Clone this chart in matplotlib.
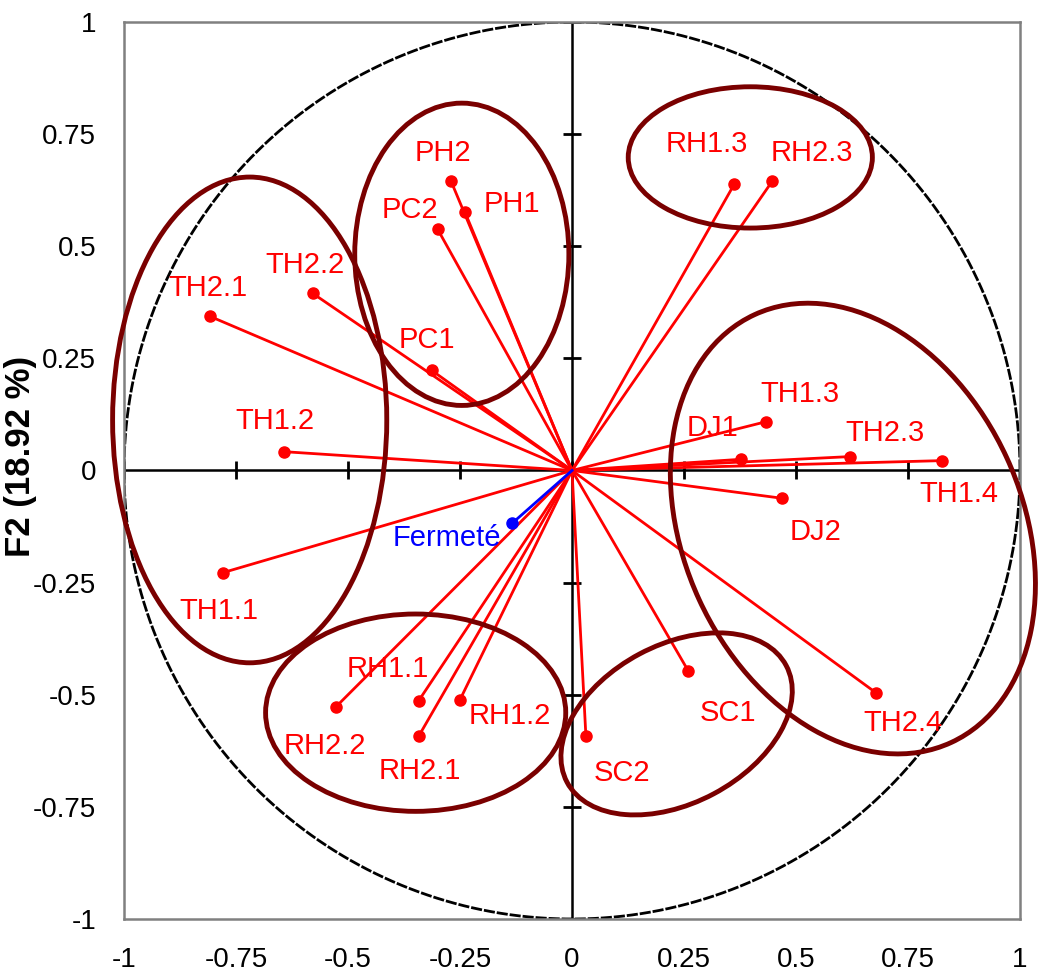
import matplotlib
matplotlib.use('Agg')
import matplotlib.pyplot as plt
from matplotlib.patches import Ellipse
import numpy as np

# variables (cercle des corrélations F1 x F2)
names = ['PH2', 'PH1', 'PC2', 'TH2.2', 'TH2.1', 'PC1', 'TH1.2', 'TH1.1',
         'RH1.1', 'RH2.2', 'RH2.1', 'RH1.2', 'SC2', 'SC1', 'TH2.4', 'DJ2',
         'DJ1', 'TH1.3', 'TH2.3', 'TH1.4', 'RH1.3', 'RH2.3']
f1 = [-0.270, -0.239, -0.300, -0.579, -0.809, -0.313, -0.644, -0.780,
      -0.342, -0.527, -0.342, -0.250, 0.031, 0.259, 0.679, 0.469,
      0.378, 0.434, 0.621, 0.827, 0.362, 0.447]
f2 = [0.645, 0.576, 0.538, 0.395, 0.344, 0.223, 0.042, -0.228,
      -0.513, -0.527, -0.592, -0.511, -0.592, -0.446, -0.496, -0.062,
      0.025, 0.109, 0.031, 0.022, 0.638, 0.645]

# variable supplémentaire
sup_name = 'Fermeté'
sup_f1 = -0.134
sup_f2 = -0.118

# groupes (ellipses)
ell_cx = [-0.7195, -0.246, 0.398, 0.627, -0.349, 0.2335]
ell_cy = [0.1127, 0.482, 0.698, -0.1295, -0.540, -0.565]
ell_w = [0.612, 0.478, 0.545, 1.05, 0.67, 0.554]
ell_h = [1.083, 0.674, 0.315, 0.756, 0.44, 0.353]
ell_ang = [0, 0, 0, -65.3, 0, 28]

ticks = [-1, -0.75, -0.5, -0.25, 0, 0.25, 0.5, 0.75, 1]
tick_labels = ['-1', '-0.75', '-0.5', '-0.25', '0', '0.25', '0.5', '0.75', '1']

# décalage des étiquettes (pixels)
offs = [(-8, 28), (47, 8), (-28, 19), (-8, 28), (-2, 28), (-5, 30), (-9, 31),
        (-4, -38), (-31, 32), (-11, -39), (1, -35), (50, -16), (36, -37),
        (40, -42), (27, -30), (33, -34), (-29, 31), (34, 28), (35, 24),
        (16, -33), (-27, 40), (40, 28)]

plt.rcParams['font.family'] = ['Liberation Sans', 'DejaVu Sans']

fig = plt.figure(figsize=(10.44, 9.76), dpi=100)
ax = fig.add_axes([0.1188, 0.0584, 0.8582, 0.9191])
ax.set_xlim(-1, 1)
ax.set_ylim(-1, 1)

# cercle
t = np.linspace(0, 2 * np.pi, 600)
ax.plot(np.cos(t), np.sin(t), color='black', lw=2, ls=(0, (4, 0.7)), zorder=1)

# axes centraux
ax.axhline(0, color='black', lw=1.8, zorder=2)
ax.axvline(0, color='black', lw=1.8, zorder=2)
ax.plot(ticks, np.zeros(len(ticks)), '|', color='black', ms=13, mew=2, zorder=2)
ax.plot(np.zeros(len(ticks)), ticks, '_', color='black', ms=13, mew=2, zorder=2)

# vecteurs
for i in range(len(names)):
    ax.plot([0, f1[i]], [0, f2[i]], color='#FF0000', lw=2, zorder=3)
    ax.plot(f1[i], f2[i], 'o', color='#FF0000', ms=8, zorder=4)
    ax.annotate(names[i], (f1[i], f2[i]), xytext=(offs[i][0] * 0.72, offs[i][1] * 0.72),
                textcoords='offset points', ha='center', va='center',
                fontsize=21, color='#FF0000', zorder=5)

ax.plot([0, sup_f1], [0, sup_f2], color='#0000FF', lw=2, zorder=3)
ax.plot(sup_f1, sup_f2, 'o', color='#0000FF', ms=8, zorder=4)
ax.annotate(sup_name, (sup_f1, sup_f2), xytext=(-65 * 0.72, -15 * 0.72),
            textcoords='offset points', ha='center', va='center',
            fontsize=21, color='#0000FF', zorder=5)

# ellipses
for i in range(len(ell_cx)):
    e = Ellipse((ell_cx[i], ell_cy[i]), ell_w[i], ell_h[i], angle=ell_ang[i],
                fill=False, edgecolor='#7A0000', lw=3.5, zorder=6, clip_on=False)
    ax.add_patch(e)

for s in ax.spines.values():
    s.set_color('#808080')
    s.set_linewidth(1.8)

ax.set_xticks(ticks)
ax.set_xticklabels(tick_labels)
ax.set_yticks(ticks)
ax.set_yticklabels(tick_labels)
ax.tick_params(length=0, labelsize=20, pad=20)
ax.set_ylabel('F2 (18.92 %)', fontsize=25, fontweight='bold')
ax.yaxis.set_label_coords(-0.097, 0.516)

fig.savefig('out.png', dpi=100)
